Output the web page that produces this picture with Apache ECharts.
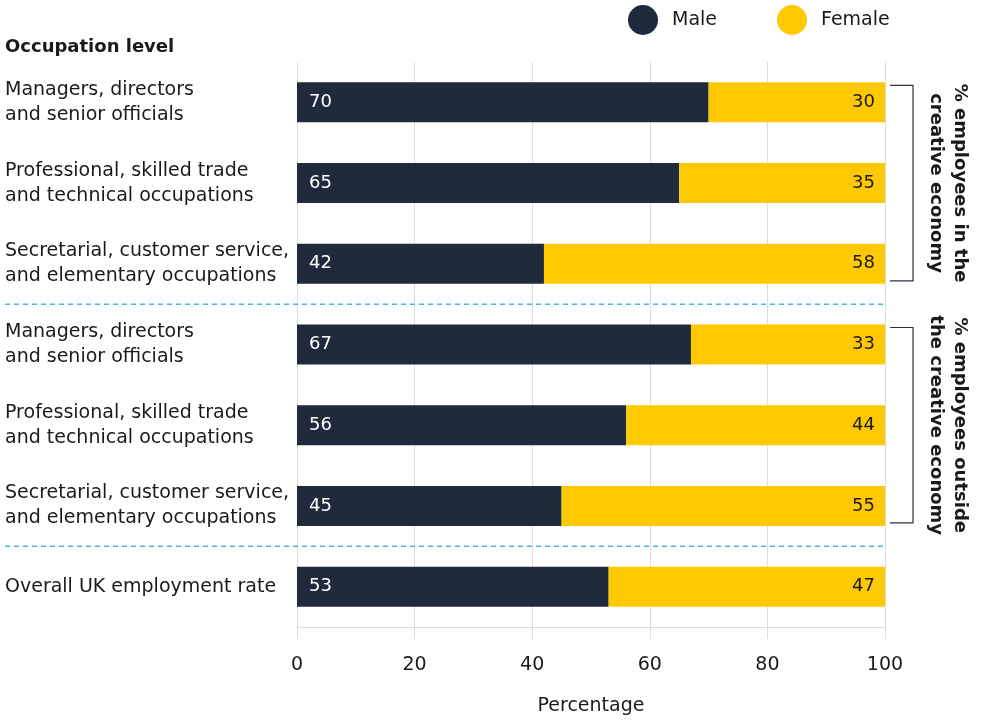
<!DOCTYPE html>
<html>
<head>
<meta charset="utf-8">
<script src="https://cdn.jsdelivr.net/npm/echarts@6/dist/echarts.min.js"></script>
<style>html,body{margin:0;padding:0;background:#fff}#c{width:985px;height:721px}</style>
</head>
<body>
<div id="c"></div>
<script>
var categories = [
  "Managers, directors\nand senior officials",
  "Professional, skilled trade\nand technical occupations",
  "Secretarial, customer service,\nand elementary occupations",
  "Managers, directors\nand senior officials",
  "Professional, skilled trade\nand technical occupations",
  "Secretarial, customer service,\nand elementary occupations",
  "Overall UK employment rate"
];
var maleValues = [70, 65, 42, 67, 56, 45, 53];
var femaleValues = [30, 35, 58, 33, 44, 55, 47];
var xTicks = [0, 20, 40, 60, 80, 100];
var groupLabels = ["% employees in the\ncreative economy", "% employees outside\nthe creative economy"];

var FONT = "DejaVu Sans";
var MALE = "#1f2a3c", FEMALE = "#fec900", GRID = "#dcdcdc", TXT = "#1a1a1a";

var chart = echarts.init(document.getElementById('c'), null, {renderer: 'canvas'});
var option = {
  animation: false,
  textStyle: {fontFamily: FONT},
  legend: {
    top: 5, left: 628, padding: 0,
    icon: 'circle', itemWidth: 30, itemHeight: 30, itemGap: 60,
    textStyle: {fontFamily: FONT, fontSize: 19, color: TXT, padding: [0, 0, 0, 9]},
    data: ['Male', 'Female']
  },
  grid: {left: 297, right: 100, top: 62, height: 570},
  xAxis: {
    type: 'value', min: 0, max: 100, interval: 20,
    name: 'Percentage', nameLocation: 'middle', nameGap: 70,
    nameTextStyle: {fontFamily: FONT, fontSize: 19, color: TXT},
    axisLine: {show: true, lineStyle: {color: GRID, width: 1}},
    axisTick: {show: true, length: 12, lineStyle: {color: GRID}},
    splitLine: {show: true, lineStyle: {color: GRID, width: 1}},
    axisLabel: {fontFamily: FONT, fontSize: 19, color: TXT, margin: 29,
      formatter: function (v) { return xTicks.indexOf(v) >= 0 ? String(v) : ''; }}
  },
  yAxis: {
    type: 'category', inverse: true, data: categories,
    axisLine: {show: false}, axisTick: {show: false},
    axisLabel: {align: 'left', margin: 292, fontFamily: FONT, fontSize: 19, color: TXT, lineHeight: 25}
  },
  series: [
    {name: 'Male', type: 'bar', stack: 'a', data: maleValues, barWidth: 40,
      itemStyle: {color: MALE},
      label: {show: true, position: 'insideLeft', distance: 12, color: '#fff', fontFamily: FONT, fontSize: 18}},
    {name: 'Female', type: 'bar', stack: 'a', data: femaleValues, barWidth: 40,
      itemStyle: {color: FEMALE},
      label: {show: true, position: 'insideRight', distance: 10, color: TXT, fontFamily: FONT, fontSize: 18}}
  ],
  color: [MALE, FEMALE]
};
chart.setOption(option);

function yPix(i) { return chart.convertToPixel({yAxisIndex: 0}, i); }
var c = [];
for (var i = 0; i < categories.length; i++) c.push(yPix(i));
var x100 = chart.convertToPixel({xAxisIndex: 0}, 100);
var sep1 = (c[2] + c[3]) / 2, sep2 = (c[5] + c[6]) / 2;
var graphics = [
  {type: 'text', left: 5, top: 38, style: {text: 'Occupation level', fontFamily: FONT, fontSize: 18, fontWeight: 'bold', fill: TXT}},
  {type: 'line', shape: {x1: 5, y1: sep1, x2: x100, y2: sep1}, style: {stroke: '#4db3df', lineWidth: 1.5, lineDash: [5, 4]}},
  {type: 'line', shape: {x1: 5, y1: sep2, x2: x100, y2: sep2}, style: {stroke: '#4db3df', lineWidth: 1.5, lineDash: [5, 4]}}
];
var groups = [[0, 2], [3, 5]];
groups.forEach(function (g, k) {
  var yt = c[g[0]] - 17, yb = c[g[1]] + 17;
  var bx = x100 + 28;
  graphics.push({type: 'polyline', shape: {points: [[x100 + 5, yt], [bx, yt], [bx, yb], [x100 + 5, yb]]},
    style: {stroke: '#2a3343', lineWidth: 1.2, fill: null}});
  graphics.push({type: 'text', x: bx + 35, y: (yt + yb) / 2, rotation: -Math.PI / 2,
    style: {text: groupLabels[k], fontFamily: FONT, fontSize: 18, fontWeight: 'bold', fill: TXT,
      align: 'center', verticalAlign: 'middle', lineHeight: 24}});
});
chart.setOption({graphic: graphics});
</script>
</body>
</html>
